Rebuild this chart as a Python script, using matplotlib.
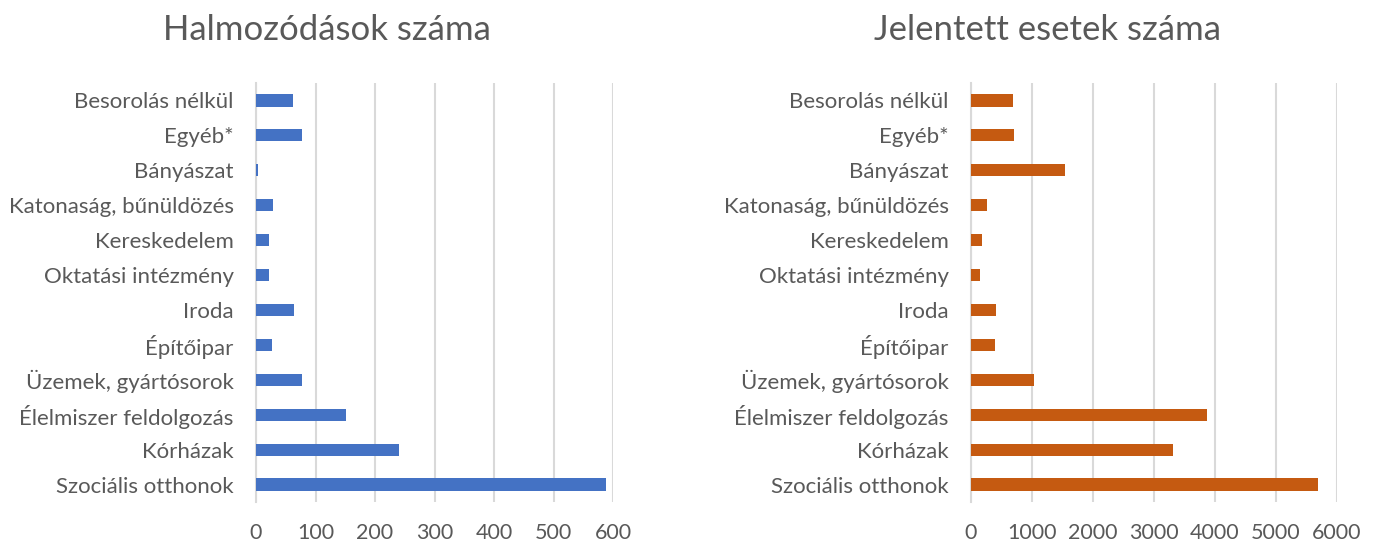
import matplotlib
matplotlib.use("Agg")
import matplotlib.pyplot as plt

plt.rcParams['font.family'] = ['Lato', 'DejaVu Sans']

# ====================== adatok ======================
categories = ['Szociális otthonok', 'Kórházak', 'Élelmiszer feldolgozás',
              'Üzemek, gyártósorok', 'Építőipar', 'Iroda', 'Oktatási intézmény',
              'Kereskedelem', 'Katonaság, bűnüldözés', 'Bányászat', 'Egyéb*',
              'Besorolás nélkül']
halmozodasok = [589, 240, 152, 77, 27, 64, 22, 22, 28, 4, 78, 63]
esetek = [5692, 3308, 3874, 1033, 401, 412, 143, 187, 269, 1544, 698, 681]

title_left = 'Halmozódások száma'
title_right = 'Jelentett esetek száma'
ticks_left = [0, 100, 200, 300, 400, 500, 600]
ticks_right = [0, 1000, 2000, 3000, 4000, 5000, 6000]

blue = '#4472C4'
orange = '#C55A11'
grid_col = '#D9D9D9'
text_col = '#595959'

W, H = 1375, 544
fig = plt.figure(figsize=(W / 100, H / 100), dpi=100)


def panel(rect, values, color, ticks, title, title_x):
    ax = fig.add_axes(rect)
    y = range(len(categories))
    ax.barh(y, values, height=0.35, color=color, zorder=3)
    ax.set_ylim(-0.5, len(categories) - 0.5)
    ax.set_xlim(ticks[0], ticks[-1])
    ax.set_xticks(ticks)
    ax.set_yticks(list(y))
    ax.set_yticklabels(categories)
    ax.xaxis.grid(True, color=grid_col, linewidth=1.5, zorder=0)
    for s in ['top', 'right', 'bottom']:
        ax.spines[s].set_visible(False)
    ax.spines['left'].set_color(grid_col)
    ax.spines['left'].set_linewidth(1.5)
    ax.tick_params(axis='both', length=0, colors=text_col)
    ax.tick_params(axis='x', pad=15, labelsize=15.5)
    ax.tick_params(axis='y', pad=16, labelsize=16)
    fig.text(title_x, 1 - 30 / H, title, ha='center', va='center',
             fontsize=25, color=text_col)
    return ax


panel([256 / W, 1 - 502 / H, 357 / W, 419 / H], halmozodasok, blue,
      ticks_left, title_left, 327 / W)
panel([971 / W, 1 - 502 / H, 366 / W, 419 / H], esetek, orange,
      ticks_right, title_right, 1048 / W)

plt.savefig('out.png', dpi=100)
plt.close()
